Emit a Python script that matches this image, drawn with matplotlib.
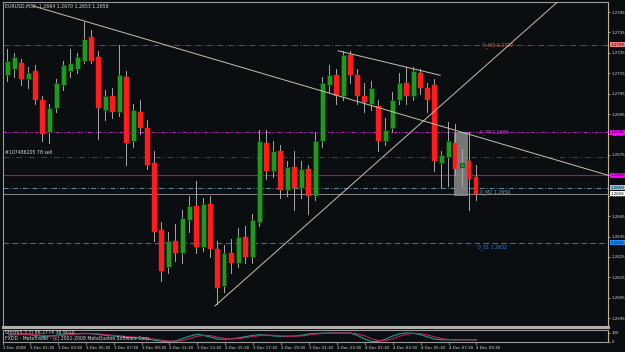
import numpy as np
import matplotlib.pyplot as plt
from matplotlib.transforms import blended_transform_factory
from matplotlib.patches import Rectangle

# EURUSD M30 - velas de 3 Dec 00:00 a 4 Dec 09:30
opens = [1.2714, 1.2717, 1.2720, 1.2712, 1.2716, 1.2702, 1.2686, 1.2698, 1.2709, 1.2716,
         1.2717, 1.2721, 1.2733, 1.2723, 1.2697, 1.2704, 1.2696, 1.2713, 1.2682, 1.2696,
         1.2688, 1.2671, 1.2638, 1.2620, 1.2633, 1.2627, 1.2643, 1.2650, 1.2630, 1.2651,
         1.2629, 1.2611, 1.2627, 1.2622, 1.2635, 1.2625, 1.2642, 1.2681, 1.2667, 1.2677,
         1.2658, 1.2669, 1.2659, 1.2668, 1.2655, 1.2682, 1.2709, 1.2714, 1.2704, 1.2724,
         1.2714, 1.2704, 1.2700, 1.2699, 1.2682, 1.2688, 1.2702, 1.2710, 1.2704, 1.2715,
         1.2708, 1.2709, 1.2671, 1.2674, 1.2681, 1.2669, 1.2672, 1.2664]
highs = [1.2727, 1.2725, 1.2722, 1.2718, 1.2719, 1.2704, 1.2700, 1.2712, 1.2721, 1.2727,
         1.2725, 1.2740, 1.2736, 1.2726, 1.2707, 1.2708, 1.2729, 1.2716, 1.2700, 1.2702,
         1.2692, 1.2677, 1.2642, 1.2637, 1.2641, 1.2648, 1.2655, 1.2662, 1.2654, 1.2655,
         1.2633, 1.2631, 1.2634, 1.2639, 1.2640, 1.2646, 1.2687, 1.2687, 1.2682, 1.2680,
         1.2672, 1.2677, 1.2672, 1.2670, 1.2686, 1.2713, 1.2719, 1.2717, 1.2726, 1.2726,
         1.2717, 1.2710, 1.2711, 1.2702, 1.2693, 1.2706, 1.2715, 1.2718, 1.2718, 1.2717,
         1.2710, 1.2712, 1.2677, 1.2691, 1.2690, 1.2678, 1.2686, 1.2670]
lows = [1.2711, 1.2713, 1.2709, 1.2708, 1.2700, 1.2682, 1.2681, 1.2696, 1.2707, 1.2713,
        1.2715, 1.2720, 1.2720, 1.2683, 1.2692, 1.2693, 1.2694, 1.2670, 1.2679, 1.2685,
        1.2668, 1.2633, 1.2613, 1.2617, 1.2623, 1.2622, 1.2637, 1.2627, 1.2628, 1.2625,
        1.2602, 1.2608, 1.2617, 1.2620, 1.2622, 1.2622, 1.2640, 1.2663, 1.2664, 1.2654,
        1.2655, 1.2648, 1.2654, 1.2646, 1.2653, 1.2679, 1.2706, 1.2700, 1.2702, 1.2710,
        1.2700, 1.2696, 1.2697, 1.2677, 1.2680, 1.2686, 1.2700, 1.2700, 1.2702, 1.2705,
        1.2696, 1.2667, 1.2659, 1.2660, 1.2665, 1.2660, 1.2648, 1.2653]
closes = [1.2721, 1.2723, 1.2712, 1.2715, 1.2702, 1.2685, 1.2698, 1.2710, 1.2719, 1.2720,
          1.2723, 1.2732, 1.2721, 1.2698, 1.2704, 1.2696, 1.2714, 1.2681, 1.2697, 1.2688,
          1.2670, 1.2637, 1.2618, 1.2633, 1.2627, 1.2644, 1.2650, 1.2630, 1.2651, 1.2629,
          1.2610, 1.2627, 1.2622, 1.2635, 1.2625, 1.2643, 1.2682, 1.2667, 1.2677, 1.2658,
          1.2669, 1.2659, 1.2668, 1.2655, 1.2682, 1.2710, 1.2714, 1.2704, 1.2724, 1.2714,
          1.2704, 1.2701, 1.2708, 1.2682, 1.2687, 1.2702, 1.2710, 1.2704, 1.2716, 1.2708,
          1.2702, 1.2672, 1.2675, 1.2682, 1.2668, 1.2671, 1.2663, 1.2656]

# Estocastico (5,3,3)
stoch_k = [80, 85, 85, 80, 70, 60, 65, 75, 85, 90, 92, 95, 90, 80, 72, 65, 60, 50, 45, 40,
           30, 15, 5, 0, 10, 40, 65, 85, 70, 50, 30, 28, 35, 45, 60, 72, 80, 75, 65, 60,
           62, 65, 75, 90, 95, 98, 100, 98, 100, 98, 70, 30, 2, 5, 30, 65, 90, 100, 95, 80,
           55, 30, 22, 22, 22, 22, 22, 22]
stoch_d = [75, 78, 82, 83, 78, 70, 65, 67, 75, 83, 89, 92, 92, 88, 80, 72, 66, 58, 52, 45,
           38, 28, 17, 7, 5, 17, 38, 63, 73, 68, 50, 36, 31, 36, 47, 59, 71, 76, 73, 67,
           62, 62, 67, 77, 87, 94, 97, 99, 99, 99, 89, 66, 34, 12, 12, 33, 62, 85, 95, 92,
           77, 55, 36, 25, 22, 22, 22, 22]

# Niveles horizontales
nivel_m3 = 1.2729
nivel_pp = 1.2686
nivel_venta = 1.2674
nivel_mag = 1.2665
nivel_m2 = 1.2659
nivel_bid = 1.2656
nivel_s1 = 1.2632

# Lineas de tendencia (indice de vela, precio)
tend1 = [(4.7, 1.2748), (86.9, 1.2665)]
tend2 = [(30.7, 1.2601), (80.0, 1.2751)]
tend3 = [(48.3, 1.2726), (62.9, 1.2714)]

eje_precios = [1.2595, 1.2605, 1.2615, 1.2625, 1.2635, 1.2645, 1.2655, 1.2665, 1.2675,
               1.2685, 1.2695, 1.2705, 1.2715, 1.2725, 1.2735, 1.2745]
etiquetas_tiempo = ["2 Dec 2008", "3 Dec 01:30", "3 Dec 03:30", "3 Dec 05:30", "3 Dec 07:30",
                    "3 Dec 09:30", "3 Dec 11:30", "3 Dec 13:30", "3 Dec 15:30", "3 Dec 17:30",
                    "3 Dec 19:30", "3 Dec 21:30", "3 Dec 23:30", "4 Dec 01:30", "4 Dec 03:30",
                    "4 Dec 05:30", "4 Dec 07:30", "4 Dec 09:30"]
pos_tiempo = [0.15, 4, 8, 12, 16, 20, 24, 28, 32, 36, 40, 44, 48, 52, 56, 60, 64, 68]

fondo = "#0b0e10"
txt = "#d8d8d8"
fs = 2.9      # ejes
fs2 = 3.3     # textos dentro del grafico

fig = plt.figure(figsize=(6.25, 3.52), dpi=100)
fig.patch.set_facecolor(fondo)
W, H = 625, 352
ax = fig.add_axes([3 / W, (H - 327) / H, 605 / W, 325 / H])
sub = fig.add_axes([3 / W, (H - 342) / H, 605 / W, 12 / H])

for a in (ax, sub):
    a.set_facecolor(fondo)
    a.set_xlim(3 / 7, 608 / 7)
    for s in a.spines.values():
        s.set_color("#9a9a9a")
        s.set_linewidth(0.8)
    a.spines["right"].set_color("#c4b494")

ax.set_ylim(1.25907, 1.27499)
ax.spines["bottom"].set_color("#b0b0b0")
ax.spines["bottom"].set_linewidth(2.2)

# velas
n = len(opens)
x = np.arange(1, n + 1)
ancho = 5 / 7
for i in range(n):
    o, h, l, c = opens[i], highs[i], lows[i], closes[i]
    ax.plot([x[i], x[i]], [l, h], color="#a8a8a8", lw=0.7, zorder=4)
    if c >= o:
        ax.add_patch(Rectangle((x[i] - ancho / 2, o), ancho, max(c - o, 0.00005),
                               facecolor="#1f9a1f", edgecolor="#0c3a0c", lw=0.5, zorder=5))
    else:
        ax.add_patch(Rectangle((x[i] - ancho / 2, c), ancho, o - c,
                               facecolor="#ff1c1c", edgecolor="#ff1c1c", lw=0.3, zorder=5))

# rectangulo gris
ax.add_patch(Rectangle((454 / 7, nivel_bid - 0.0001), 14 / 7, nivel_pp - nivel_bid + 0.0001,
                       facecolor="#8a8a8a", edgecolor="none", alpha=0.85, zorder=3))

# niveles
ax.axhline(nivel_m3, color="#a8332a", lw=0.7, ls=(0, (6, 2, 1, 2)), zorder=2)
ax.axhline(nivel_pp, color="#c020c0", lw=0.8, ls=(0, (3, 1.5, 1, 1.5, 1, 1.5)), zorder=2)
ax.axhline(nivel_venta, color="#1d5a3a", lw=0.7, ls=(0, (6, 3, 1, 3)), zorder=2)
ax.axhline(nivel_mag, color="#b000b0", lw=0.8, zorder=2)
ax.axhline(nivel_m2, color="#5f8fa8", lw=0.7, ls=(0, (5, 2, 1, 2)), zorder=2)
ax.axhline(nivel_bid, color="#8a8a8a", lw=0.7, zorder=2)
ax.axhline(nivel_s1, color="#1c6cc8", lw=0.8, ls=(0, (5, 3)), zorder=2)

ax.text(69, nivel_m3, "0_M3 1.2729", color="#e06050", fontsize=fs2, va="center")
ax.text(68.6, nivel_pp, "0_PP 1.2686", color="#d040d0", fontsize=fs2, va="center", zorder=6)
ax.text(68.6, nivel_m2 - 0.0001, "0_M2 1.2659", color="#6fa0c0", fontsize=fs2, va="top")
ax.text(68.3, nivel_s1 - 0.0001, "0_S1 1.2632", color="#2a80e0", fontsize=fs2, va="top")
ax.text(0.7, nivel_venta + 0.0001, "#107486205 78 sell", color=txt, fontsize=fs2, va="bottom")

# lineas de tendencia
for t in (tend1, tend2, tend3):
    ax.plot([t[0][0], t[1][0]], [t[0][1], t[1][1]], color="#c8c0b0", lw=0.7, zorder=6)

# eje de precios a la derecha
ax.yaxis.tick_right()
ax.set_yticks(eje_precios)
ax.set_yticklabels(["%.4f" % p for p in eje_precios])
ax.tick_params(axis="y", colors="#c4b494", labelcolor=txt, labelsize=fs, length=1.5, pad=1, width=0.6)
ax.set_xticks([])

tr = blended_transform_factory(ax.transAxes, ax.transData)
cajas = [(nivel_m3, "#f08080"), (nivel_pp, "#ff00ff"), (nivel_mag, "#ff00ff"),
         (nivel_m2, "#87c8f0"), (nivel_bid, "#ffffff"), (nivel_s1, "#1e90ff")]
for p, col in cajas:
    ax.text(1.0045, p, "%.4f" % p, transform=tr, fontsize=fs, color="black", va="center", ha="left",
            bbox=dict(boxstyle="square,pad=0.2", facecolor=col, edgecolor="none"), clip_on=False,
            zorder=10)

ax.text(0.003, 0.995, "EURUSD,M30  1.2664 1.2670 1.2653 1.2658", transform=ax.transAxes,
        color=txt, fontsize=fs2, va="top")

# panel estocastico
sub.set_ylim(-3, 133)
sub.plot(x, stoch_k, color="#1f9e8e", lw=0.8)
sub.plot(x, stoch_d, color="#c0205a", lw=0.8)
sub.yaxis.tick_right()
sub.set_yticks([0, 100])
sub.set_yticklabels(["0", "100"])
sub.tick_params(axis="y", colors="#c4b494", labelcolor=txt, labelsize=fs, length=1.5, pad=1, width=0.6)
sub.set_xticks(pos_tiempo)
sub.set_xticklabels(etiquetas_tiempo, ha="left")
sub.tick_params(axis="x", colors="#9a9a9a", labelcolor=txt, labelsize=fs, length=2, pad=1, width=0.6)
sub.text(0.003, 0.98, "Stoch(5,3,3) 86.2774 36.9010", transform=sub.transAxes, color=txt,
         fontsize=fs2, va="top")
sub.text(0.003, 0.05, "FXDD - MetaTrader - (c) 2001-2008 MetaQuotes Software Corp.",
         transform=sub.transAxes, color=txt, fontsize=fs2, va="bottom")

fig.savefig("out.png", dpi=100, facecolor=fondo)
